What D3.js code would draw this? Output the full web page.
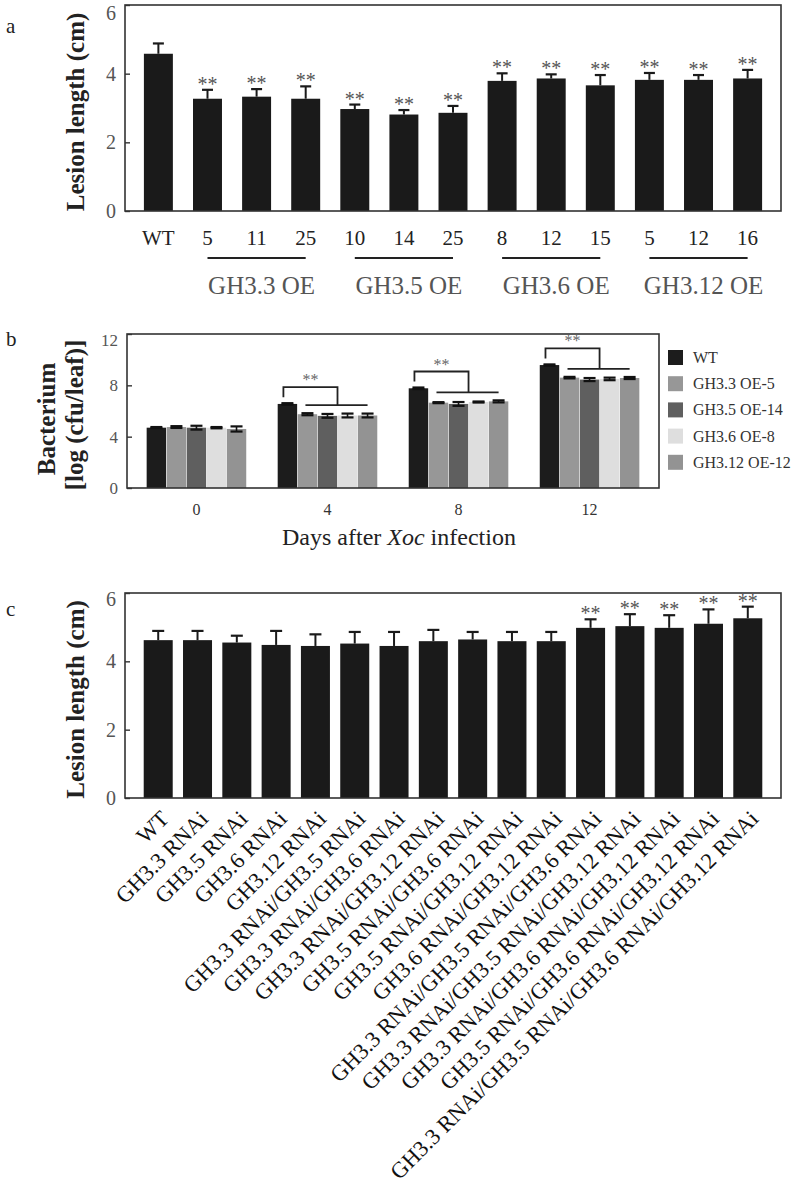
<!DOCTYPE html>
<html><head><meta charset="utf-8">
<script src="https://cdn.jsdelivr.net/npm/d3@7"></script>
<style>body{margin:0;background:#fff}svg{display:block}svg text{font-family:"Liberation Serif","Times New Roman",serif !important}</style>
</head><body>
<svg id="c" width="800" height="1191"></svg>
<script>
// ---------- Panel a data ----------
const aLabels = ["WT","5","11","25","10","14","25","8","12","15","5","12","16"];
const aMeans  = [4.58,3.27,3.33,3.27,2.97,2.81,2.86,3.79,3.86,3.66,3.82,3.82,3.86];
const aErrors = [0.30,0.26,0.22,0.36,0.13,0.13,0.20,0.22,0.12,0.30,0.20,0.14,0.25];
const aSig    = [false,true,true,true,true,true,true,true,true,true,true,true,true];
const aGroupLabels = ["GH3.3 OE","GH3.5 OE","GH3.6 OE","GH3.12 OE"];
const aGroupStart  = [1,4,7,10];
const aGroupEnd    = [3,6,9,12];
const aTicks = [0,2,4,6];

// ---------- Panel b data ----------
const bDays  = ["0","4","8","12"];
const bLines = ["WT","GH3.3 OE-5","GH3.5 OE-14","GH3.6 OE-8","GH3.12 OE-12"];
const bColors = ["#1c1c1c","#979797","#5f5f5f","#dedede","#939393"];
const bMeans = [
  [4.70,4.75,4.70,4.70,4.60],
  [6.55,5.75,5.62,5.65,5.65],
  [7.77,6.65,6.55,6.70,6.75],
  [9.58,8.60,8.45,8.50,8.57]
];
const bErrors = [
  [0.05,0.07,0.15,0.05,0.20],
  [0.06,0.08,0.15,0.15,0.15],
  [0.06,0.04,0.15,0.04,0.08],
  [0.05,0.06,0.12,0.10,0.08]
];
const bSig = [false,true,true,true];
const bTicks = [0,4,8,12];

// ---------- Panel c data ----------
const cLabels = ["WT","GH3.3 RNAi","GH3.5 RNAi","GH3.6 RNAi","GH3.12 RNAi",
  "GH3.3 RNAi/GH3.5 RNAi","GH3.3 RNAi/GH3.6 RNAi","GH3.3 RNAi/GH3.12 RNAi",
  "GH3.5 RNAi/GH3.6 RNAi","GH3.5 RNAi/GH3.12 RNAi","GH3.6 RNAi/GH3.12 RNAi",
  "GH3.3 RNAi/GH3.5 RNAi/GH3.6 RNAi","GH3.3 RNAi/GH3.5 RNAi/GH3.12 RNAi",
  "GH3.3 RNAi/GH3.6 RNAi/GH3.12 RNAi","GH3.5 RNAi/GH3.6 RNAi/GH3.12 RNAi",
  "GH3.3 RNAi/GH3.5 RNAi/GH3.6 RNAi/GH3.12 RNAi"];
const cMeans  = [4.62,4.62,4.55,4.48,4.45,4.52,4.45,4.59,4.64,4.59,4.59,4.98,5.03,4.98,5.10,5.26];
const cErrors = [0.27,0.27,0.20,0.41,0.34,0.34,0.41,0.33,0.22,0.27,0.27,0.25,0.35,0.37,0.42,0.34];
const cSig    = [false,false,false,false,false,false,false,false,false,false,false,true,true,true,true,true];
const cTicks = [0,2,4,6];

const svg = d3.select("#c");
const FRAME = "#333", BAR = "#1a1a1a", GREY = "#555";

function frame(g, x0, y0, x1, y1) {
  g.append("rect").attr("x", x0).attr("y", y0).attr("width", x1 - x0).attr("height", y1 - y0)
    .attr("fill", "none").attr("stroke", FRAME).attr("stroke-width", 1.6);
}
function yAxis(g, y, x0, ticks, fs, topMax, topShift) {
  const ax = g.append("g").attr("transform", `translate(${x0},0)`)
    .call(d3.axisLeft(y).tickValues(ticks).tickSize(-5).tickPadding(9).tickFormat(d3.format("d")));
  ax.select(".domain").remove();
  ax.selectAll("line").attr("stroke", FRAME).attr("stroke-width", 1.4);
  ax.selectAll("text").attr("font-size", fs).attr("fill", GREY);
  ax.selectAll(".tick").filter(d => d === topMax).select("text").attr("y", topShift);
}

// ================= Panel a =================
{
  const L = 125, R = 781, T = 5, B = 211;
  const g = svg.append("g");
  const x = d3.scaleBand().domain(d3.range(aLabels.length)).range([L, R]).paddingInner(0.41).paddingOuter(0.385);
  const y = d3.scaleLinear().domain([0, 6]).range([B, T]);
  g.append("text").attr("x", 6).attr("y", 33).attr("font-size", 21).attr("fill", "#222").text("a");
  g.selectAll(".bar").data(aMeans).join("rect")
    .attr("x", (d, i) => x(i)).attr("width", x.bandwidth())
    .attr("y", d => y(d)).attr("height", d => B - y(d)).attr("fill", BAR);
  const cw = 11;
  aMeans.forEach((m, i) => {
    const cx = x(i) + x.bandwidth() / 2, top = y(m + aErrors[i]);
    g.append("line").attr("x1", cx).attr("x2", cx).attr("y1", y(m)).attr("y2", top).attr("stroke", BAR).attr("stroke-width", 2);
    g.append("line").attr("x1", cx - cw / 2).attr("x2", cx + cw / 2).attr("y1", top).attr("y2", top).attr("stroke", BAR).attr("stroke-width", 2.2);
    if (aSig[i]) g.append("text").attr("x", cx).attr("y", top + 1).attr("text-anchor", "middle")
      .attr("font-size", 20).attr("fill", GREY).text("**");
    g.append("text").attr("x", cx).attr("y", 245).attr("text-anchor", "middle").attr("font-size", 21)
      .attr("fill", "#222").text(aLabels[i]);
  });
  frame(g, L, T, R, B);
  yAxis(g, y, L, aTicks, 20, 6, 8);
  g.append("text").attr("transform", `translate(84,${(T + B) / 2 + 4}) rotate(-90)`).attr("text-anchor", "middle")
    .attr("font-size", 25).attr("font-weight", "bold").attr("fill", "#222").text("Lesion length (cm)");
  aGroupLabels.forEach((lab, k) => {
    const xs = x(aGroupStart[k]) + x.bandwidth() / 2, xe = x(aGroupEnd[k]) + x.bandwidth() / 2;
    g.append("line").attr("x1", xs).attr("x2", xe).attr("y1", 258).attr("y2", 258).attr("stroke", "#222").attr("stroke-width", 1.8);
    g.append("text").attr("x", (xs + xe) / 2 + 5).attr("y", 294).attr("text-anchor", "middle").attr("font-size", 25)
      .attr("fill", "#555").text(lab);
  });
}

// ================= Panel b =================
{
  const L = 127, R = 659, T = 334, B = 488;
  const g = svg.append("g");
  const x0 = d3.scaleBand().domain(bDays).range([L, R]).paddingInner(0.24).paddingOuter(0.15);
  const x1 = d3.scaleBand().domain(bLines).range([0, x0.bandwidth()]).paddingInner(0.03);
  const y = d3.scaleLinear().domain([0, 12]).range([B, T]);
  g.append("text").attr("x", 6).attr("y", 346).attr("font-size", 21).attr("fill", "#222").text("b");
  bDays.forEach((day, di) => {
    const gx = x0(day);
    bLines.forEach((ln, li) => {
      const v = bMeans[di][li], e = bErrors[di][li];
      const bx = gx + x1(ln), cx = bx + x1.bandwidth() / 2;
      g.append("rect").attr("x", bx).attr("width", x1.bandwidth()).attr("y", y(v)).attr("height", B - y(v)).attr("fill", bColors[li]);
      const cw = 12;
      g.append("line").attr("x1", cx).attr("x2", cx).attr("y1", y(v - e)).attr("y2", y(v + e)).attr("stroke", "#111").attr("stroke-width", 1.6);
      [v - e, v + e].forEach(t => g.append("line").attr("x1", cx - cw / 2).attr("x2", cx + cw / 2).attr("y1", y(t)).attr("y2", y(t)).attr("stroke", "#111").attr("stroke-width", 2.2));
    });
    g.append("text").attr("x", gx + x0.bandwidth() / 2).attr("y", 515).attr("text-anchor", "middle").attr("font-size", 16).attr("fill", "#333").text(day);
    if (bSig[di]) {
      const wtC = gx + x1(bLines[0]) + x1.bandwidth() / 2 - 4;
      const wtTop = y(bMeans[di][0] + bErrors[di][0]);
      const othersTop = d3.min(bLines.slice(1), (ln, k) => y(bMeans[di][k + 1] + bErrors[di][k + 1]));
      const firstC = gx + x1(bLines[1]) + x1.bandwidth() / 2 - 2;
      const lastC = gx + x1(bLines[4]) + x1.bandwidth() / 2;
      const midC = (gx + x1(bLines[1]) + gx + x0.bandwidth()) / 2;
      const topY = wtTop - 16, lowY = othersTop - 8;
      g.append("path").attr("d", `M${wtC},${wtTop - 6}V${topY}H${midC}V${lowY}`).attr("fill", "none").attr("stroke", "#222").attr("stroke-width", 1.8);
      g.append("line").attr("x1", firstC).attr("x2", lastC).attr("y1", lowY).attr("y2", lowY).attr("stroke", "#222").attr("stroke-width", 1.8);
      g.append("text").attr("x", (wtC + midC) / 2).attr("y", topY - 2).attr("text-anchor", "middle").attr("font-size", 16).attr("fill", "#666").text("**");
    }
  });
  frame(g, L, T, R, B);
  yAxis(g, y, L, bTicks, 17, 12, 6);
  g.append("text").attr("transform", `translate(55,419) rotate(-90)`).attr("text-anchor", "middle")
    .attr("font-size", 25).attr("font-weight", "bold").attr("fill", "#222").text("Bacterium");
  g.append("text").attr("transform", `translate(83,415) rotate(-90)`).attr("text-anchor", "middle")
    .attr("font-size", 25).attr("font-weight", "bold").attr("fill", "#222").text("[log (cfu/leaf)]");
  const t = g.append("text").attr("x", 282).attr("y", 545).attr("font-size", 24).attr("fill", "#222");
  t.append("tspan").text("Days after ");
  t.append("tspan").attr("font-style", "italic").text("Xoc");
  t.append("tspan").text(" infection");
  // legend
  const lg = g.append("g");
  bLines.forEach((ln, i) => {
    const yy = 357 + i * 26.2;
    lg.append("rect").attr("x", 668).attr("y", yy - 7).attr("width", 15).attr("height", 15).attr("fill", bColors[i]);
    lg.append("text").attr("x", 693).attr("y", yy + 6).attr("font-size", 16).attr("fill", "#333").text(ln);
  });
}

// ================= Panel c =================
{
  const L = 125, R = 781, T = 593, B = 798;
  const g = svg.append("g");
  const x = d3.scaleBand().domain(d3.range(cLabels.length)).range([L, R]).paddingInner(0.262).paddingOuter(0.476);
  const y = d3.scaleLinear().domain([0, 6]).range([B, T]);
  g.append("text").attr("x", 6).attr("y", 616).attr("font-size", 21).attr("fill", "#222").text("c");
  g.selectAll(".bar").data(cMeans).join("rect")
    .attr("x", (d, i) => x(i)).attr("width", x.bandwidth())
    .attr("y", d => y(d)).attr("height", d => B - y(d)).attr("fill", BAR);
  const cw = 12;
  cMeans.forEach((m, i) => {
    const cx = x(i) + x.bandwidth() / 2, top = y(m + cErrors[i]);
    g.append("line").attr("x1", cx).attr("x2", cx).attr("y1", y(m)).attr("y2", top).attr("stroke", BAR).attr("stroke-width", 2);
    g.append("line").attr("x1", cx - cw / 2).attr("x2", cx + cw / 2).attr("y1", top).attr("y2", top).attr("stroke", BAR).attr("stroke-width", 2.2);
    if (cSig[i]) g.append("text").attr("x", cx).attr("y", top + 1).attr("text-anchor", "middle")
      .attr("font-size", 20).attr("fill", GREY).text("**");
    g.append("text").attr("transform", `translate(${cx + 12},${B + 22}) rotate(-45)`).attr("text-anchor", "end")
      .attr("font-size", 22.5).attr("fill", "#111").text(cLabels[i]);
  });
  frame(g, L, T, R, B);
  yAxis(g, y, L, cTicks, 20, 6, 6);
  g.append("text").attr("transform", `translate(84,${(T + B) / 2 + 4}) rotate(-90)`).attr("text-anchor", "middle")
    .attr("font-size", 25).attr("font-weight", "bold").attr("fill", "#222").text("Lesion length (cm)");
}
</script>
</body></html>
